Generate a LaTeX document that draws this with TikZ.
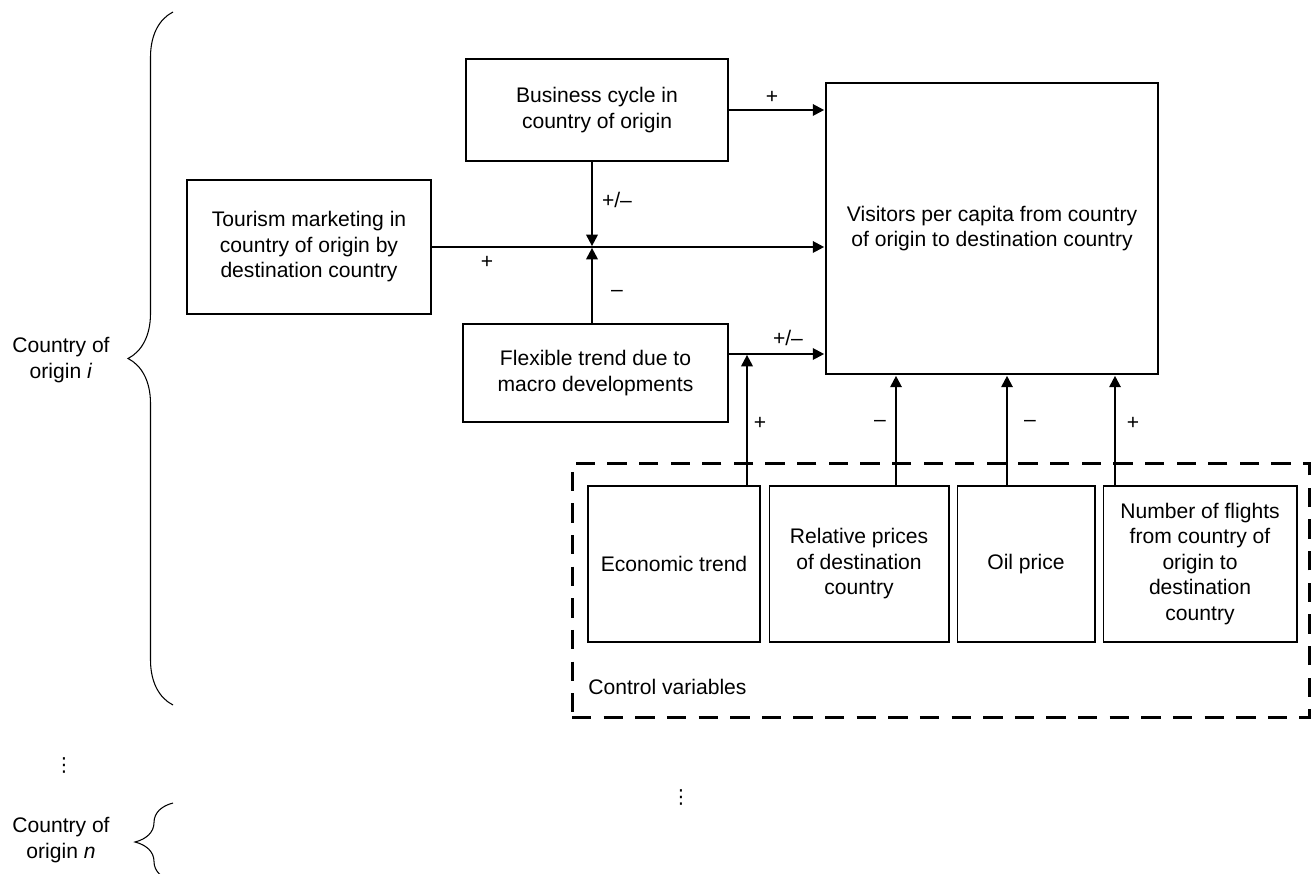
\documentclass[tikz,border=0pt]{standalone}
\usepackage{fontspec}
\setmainfont{Liberation Sans}
\newfontfamily\dotsfont{DejaVu Sans}
\usetikzlibrary{arrows.meta,decorations.pathreplacing}

\tikzset{
  box/.style={draw, line width=1.1pt, inner sep=0pt, align=center},
  ctrlbox/.style={draw, line width=0.6pt, inner sep=0pt, align=center, minimum height=31.2mm},
  arr/.style={-{Triangle[length=6.5pt,width=6.5pt]}, line width=1.2pt, shorten >=0.5pt},
  sign/.style={inner sep=0pt},
  curly/.style={decorate, decoration={brace, amplitude=#1}, line width=0.6pt},
  vdots/.style={inner sep=0pt, font=\dotsfont\fontsize{11}{11}\selectfont},
}

\begin{document}
\begin{tikzpicture}[x=0.02cm, y=-0.02cm, font=\fontsize{12}{14.5}\selectfont]
    \useasboundingbox (0,0) rectangle (1311,874);

    % main boxes
    \node[box, minimum width=52.4mm, minimum height=20.4mm] (business) at (597,110) {Business cycle in\\country of origin};
    \node[box, minimum width=48.8mm, minimum height=26.8mm] (mkt) at (309,247) {Tourism marketing in\\country of origin by\\destination country};
    \node[box, minimum width=66.4mm, minimum height=58.2mm] (visitors) at (992,228.5) {Visitors per capita from country\\of origin to destination country};
    \node[box, minimum width=53mm, minimum height=19.6mm] (flex) at (595.5,373) {Flexible trend due to\\macro developments};

    % control variables
    \node[draw, line width=1.7pt, dash pattern=on 11pt off 7pt, minimum width=147.6mm, minimum height=51mm] (ctrl) at (941,590.5) {};
    \node[ctrlbox, minimum width=34.4mm] (econ) at (674,564) {Economic trend};
    \node[ctrlbox, minimum width=36mm] (rel) at (859,564) {Relative prices\\of destination\\country};
    \node[ctrlbox, minimum width=27.6mm] (oil) at (1026,564) {Oil price};
    \node[ctrlbox, minimum width=38.8mm] (flights) at (1200,564) {Number of flights\\from country of\\origin to\\destination\\country};
    \node[anchor=west, inner sep=0pt] (ctrllbl) at (588,687) {Control variables};

    % connectors
    \coordinate (join) at (592,247);
    \coordinate (flexout) at (flex.east |- 0,354);
    \draw[arr] (business.east) -- (business.east -| visitors.west);
    \draw[arr] (mkt.east) -- (mkt.east -| visitors.west);
    \draw[arr] (business.south -| join) -- (join);
    \draw[arr] (flex.north -| join) -- (join);
    \draw[arr] (flexout) -- (flexout -| visitors.west);
    \draw[arr] (econ.north -| 747,0) -- (flexout -| 747,0);
    \draw[arr] (rel.north -| 896,0) -- (visitors.south -| 896,0);
    \draw[arr] (oil.north -| 1007,0) -- (visitors.south -| 1007,0);
    \draw[arr] (flights.north -| 1115,0) -- (visitors.south -| 1115,0);

    % signs
    \node[sign] (sBus) at (772,97) {+};
    \node[sign] (sBusMkt) at (617,200) {+/–};
    \node[sign] (sMkt) at (487,262) {+};
    \node[sign] (sFlexMkt) at (617,293) {–};
    \node[sign] (sFlex) at (788,338) {+/–};
    \node[sign] (sEcon) at (760,423) {+};
    \node[sign] (sRel) at (880,423) {–};
    \node[sign] (sOil) at (1030,423) {–};
    \node[sign] (sFl) at (1133,423) {+};

    % countries of origin
    \node[align=center] (origI) at (61,360) {Country of\\origin \textit{i}};
    \node[align=center] (origN) at (61,840) {Country of\\origin \textit{n}};
    \draw[curly=9mm] (173,705) -- (173,12);
    \draw[curly=7.6mm] (173,881) -- (173,803);
    \node[vdots] (dotsL) at (64,765) {⋮};
    \node[vdots] (dotsM) at (681,797) {⋮};
\end{tikzpicture}
\end{document}
